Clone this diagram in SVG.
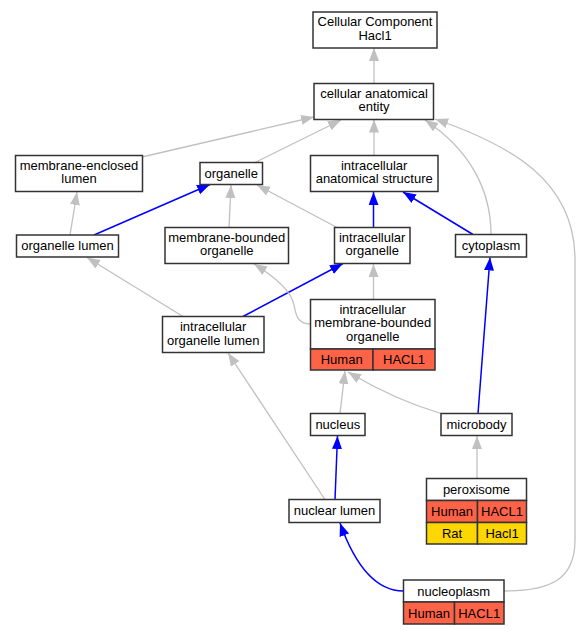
<svg xmlns="http://www.w3.org/2000/svg" width="581" height="635" viewBox="0 0 581 635">
<style>
  text { font-family: "Liberation Sans", Arial, sans-serif; font-size: 13px; fill: #000; text-anchor: middle; }
  .box { fill: #fff; stroke: #333; stroke-width: 1.5; }
  .red { fill: #ff6347; stroke: #333; stroke-width: 1.5; }
  .gold { fill: #ffd700; stroke: #333; stroke-width: 1.5; }
  .g { fill: none; stroke: #c0c0c0; stroke-width: 1.3; marker-end: url(#ag); }
  .b { fill: none; stroke: #0000ff; stroke-width: 1.5; marker-end: url(#ab); }
</style>
<defs>
  <marker id="ag" markerUnits="userSpaceOnUse" markerWidth="14" markerHeight="11" refX="13" refY="5" orient="auto">
    <path d="M0,0 L13,5 L0,10 z" fill="#c0c0c0"/>
  </marker>
  <marker id="ab" markerUnits="userSpaceOnUse" markerWidth="14" markerHeight="11" refX="13" refY="5" orient="auto">
    <path d="M0,0 L13,5 L0,10 z" fill="#0000ff"/>
  </marker>
</defs>
<rect width="581" height="635" fill="#fff"/>
<g id="connectors">
  <path class="g" d="M374,83 L374,48"/>
  <path class="g" d="M374,155.5 L374,119.5"/>
  <path class="g" d="M142,157 L314,117"/>
  <path class="g" d="M255,162.5 L341,120"/>
  <path class="g" d="M491,234.5 C491,190 470,150 425,120"/>
  <path class="g" d="M504,591 C550,591 575,580 575,540 L575,260 C575,180 510,145 435,119"/>
  <path class="g" d="M70,235 L77,192"/>
  <path class="b" d="M94,235 L210,184.5"/>
  <path class="g" d="M229,227.5 L231,185"/>
  <path class="g" d="M337,227.5 L257,185"/>
  <path class="b" d="M373.5,227.5 L373.5,192"/>
  <path class="b" d="M473,234.5 L403,192"/>
  <path class="g" d="M183,316.5 L87,257.5"/>
  <path class="b" d="M243,316.5 L343,263.5"/>
  <path class="g" d="M310.5,324 C298,324 296,316 294,305 C291,290 272,275 254,264"/>
  <path class="g" d="M373.5,299.5 L373.5,264"/>
  <path class="g" d="M340,413.5 L345,371"/>
  <path class="g" d="M441,413.5 Q395,400 348,372"/>
  <path class="b" d="M478,413.5 L490,257.5"/>
  <path class="g" d="M325,499.5 L228,353"/>
  <path class="b" d="M335,499.5 L337.5,436"/>
  <path class="g" d="M477,478.5 L477,436"/>
  <path class="b" d="M403.5,591 C375,591 355,565 340,523"/>
</g>
<g id="cellular_component_hacl1">
  <rect class="box" x="313" y="12" width="124" height="36"/>
  <text x="375" y="26">Cellular Component</text>
  <text x="375" y="40">Hacl1</text>
</g>
<g id="cellular_anatomical_entity">
  <rect class="box" x="314" y="83.5" width="119.5" height="36"/>
  <text x="374" y="97.5">cellular anatomical</text>
  <text x="374" y="111">entity</text>
</g>
<g id="intracellular_anatomical_structure">
  <rect class="box" x="310.5" y="155.5" width="127.5" height="36"/>
  <text x="374.2" y="169.5">intracellular</text>
  <text x="374.2" y="183">anatomical structure</text>
</g>
<g id="membrane_enclosed_lumen">
  <rect class="box" x="15.5" y="155.5" width="127" height="36"/>
  <text x="79" y="169.5">membrane-enclosed</text>
  <text x="79" y="183">lumen</text>
</g>
<g id="organelle">
  <rect class="box" x="200" y="162.5" width="62.5" height="22"/>
  <text x="231.2" y="177.5">organelle</text>
</g>
<g id="organelle_lumen">
  <rect class="box" x="16.5" y="235" width="102" height="22"/>
  <text x="67.5" y="250">organelle lumen</text>
</g>
<g id="membrane_bounded_organelle">
  <rect class="box" x="165" y="227.5" width="123.5" height="36"/>
  <text x="226.8" y="241.5">membrane-bounded</text>
  <text x="226.8" y="255">organelle</text>
</g>
<g id="intracellular_organelle">
  <rect class="box" x="334.5" y="227.5" width="75.5" height="36"/>
  <text x="372.2" y="241.5">intracellular</text>
  <text x="372.2" y="255">organelle</text>
</g>
<g id="cytoplasm">
  <rect class="box" x="455.5" y="234.5" width="71" height="22.5"/>
  <text x="491" y="249.5">cytoplasm</text>
</g>
<g id="intracellular_organelle_lumen">
  <rect class="box" x="162.5" y="316.5" width="101.5" height="36"/>
  <text x="213.2" y="330.5">intracellular</text>
  <text x="213.2" y="344.5">organelle lumen</text>
</g>
<g id="intracellular_membrane_bounded_organelle">
  <rect class="box" x="310.5" y="299.5" width="124.5" height="49.5"/>
  <rect class="red" x="310.5" y="349" width="62.5" height="21"/>
  <rect class="red" x="373" y="349" width="62" height="21"/>
  <text x="372.7" y="313.5">intracellular</text>
  <text x="372.7" y="327">membrane-bounded</text>
  <text x="372.7" y="340.5">organelle</text>
  <text x="341.7" y="363.5">Human</text>
  <text x="404" y="363.5">HACL1</text>
</g>
<g id="nucleus">
  <rect class="box" x="310.5" y="413.5" width="54.5" height="22"/>
  <text x="337.8" y="428.5">nucleus</text>
</g>
<g id="microbody">
  <rect class="box" x="441" y="413.5" width="71" height="22"/>
  <text x="476.5" y="428.5">microbody</text>
</g>
<g id="nuclear_lumen">
  <rect class="box" x="289" y="499.5" width="91" height="23"/>
  <text x="334.5" y="515">nuclear lumen</text>
</g>
<g id="peroxisome">
  <rect class="box" x="426.5" y="478.5" width="100" height="22"/>
  <rect class="red" x="426.5" y="500.5" width="51" height="22"/>
  <rect class="red" x="477.5" y="500.5" width="49" height="22"/>
  <rect class="gold" x="426.5" y="522.5" width="51" height="21.5"/>
  <rect class="gold" x="477.5" y="522.5" width="49" height="21.5"/>
  <text x="476.5" y="494">peroxisome</text>
  <text x="452" y="516">Human</text>
  <text x="502" y="516">HACL1</text>
  <text x="452" y="537.5">Rat</text>
  <text x="502" y="537.5">Hacl1</text>
</g>
<g id="nucleoplasm">
  <rect class="box" x="403.5" y="580" width="100.5" height="22"/>
  <rect class="red" x="403.5" y="602" width="51" height="22"/>
  <rect class="red" x="454.5" y="602" width="49.5" height="22"/>
  <text x="453.7" y="595.5">nucleoplasm</text>
  <text x="429" y="617.5">Human</text>
  <text x="479.2" y="617.5">HACL1</text>
</g>
</svg>
